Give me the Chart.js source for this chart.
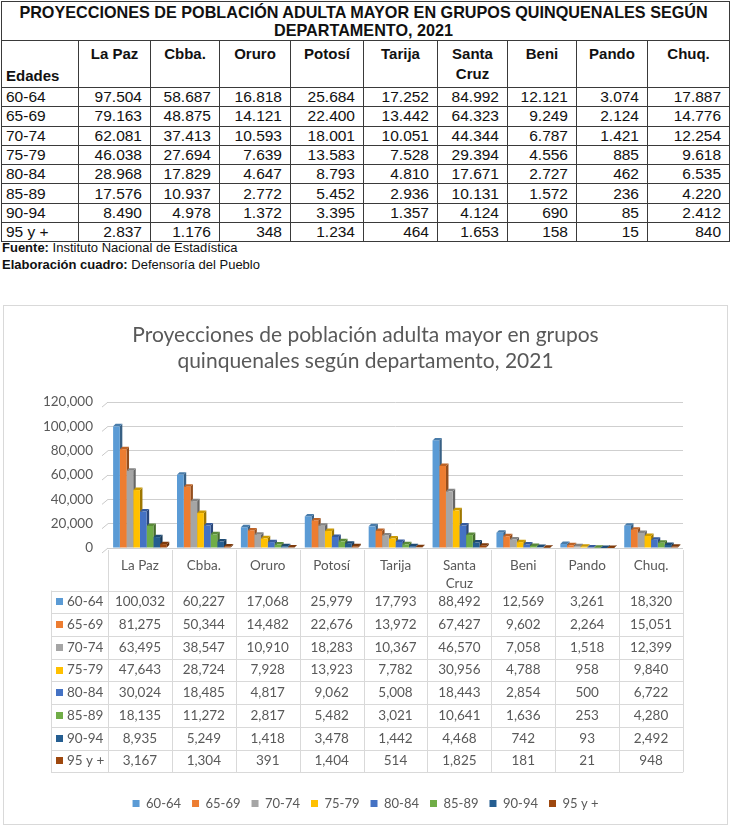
<!DOCTYPE html>
<html>
<head>
<meta charset="UTF-8">
<title>Proyecciones de población adulta mayor 2021</title>
<script src="https://cdn.jsdelivr.net/npm/chart.js@4.4.0/dist/chart.umd.min.js"></script>
<style>
    body {
        margin: 0;
        background: #fff;
        width: 732px;
        height: 831px;
        position: relative;
        overflow: hidden;
        font-family: "Liberation Sans", Arial, sans-serif;
    }
    #tabla {
        position: absolute;
        left: 1px;
        top: 1px;
        width: 728px;
        border-collapse: collapse;
        table-layout: fixed;
    }
    #tabla td {
        border: 1px solid #3a3a3a;
        padding: 0 8px 0 4px;
        font-size: 15.5px;
        line-height: 18px;
        color: #111;
        text-align: right;
        white-space: nowrap;
        overflow: hidden;
    }
    #tabla tr.dato { height: 19.3px; }
    #tabla td.edad { text-align: left; padding-left: 4px; }
    #tabla td.titulo {
        font-weight: bold;
        font-size: 16.2px;
        line-height: 18px;
        text-align: center;
        height: 38px;
    }
    #tabla tr.cab td {
        font-weight: bold;
        font-size: 15px;
        text-align: center;
        vertical-align: top;
        height: 43px;
        padding: 3px 2px 0 2px;
        line-height: 20px;
    }
    #tabla tr.cab td.edades { vertical-align: bottom; text-align: left; padding: 0 0 1px 4px; }
    #fuente {
        position: absolute;
        left: 2px;
        top: 239px;
        font-size: 13px;
        line-height: 17px;
        color: #111;
    }
    #marco {
        position: absolute;
        left: 3px;
        top: 305px;
        width: 725px;
        height: 520px;
        box-sizing: border-box;
        border: 1px solid #d9d9d9;
    }
</style>
</head>
<body>
    <table id="tabla"></table>
    <div id="fuente">
        <b>Fuente:</b> Instituto Nacional de Estadística<br />
        <b>Elaboración cuadro:</b> Defensoría del Pueblo
    </div>
    <div id="marco"><canvas id="grafico"></canvas></div>

<script>
    // categorias y series
    var departamentos = ['La Paz', 'Cbba.', 'Oruro', 'Potosí', 'Tarija', ['Santa', 'Cruz'], 'Beni', 'Pando', 'Chuq.'];
    var grupos = ['60-64', '65-69', '70-74', '75-79', '80-84', '85-89', '90-94', '95 y +'];
    var colores = ['#5B9BD5', '#ED7D31', '#A5A5A5', '#FFC000', '#4472C4', '#70AD47', '#255E91', '#9E480E'];

    // valores del grafico (tabla de datos del grafico)
    var g6064 = [100032, 60227, 17068, 25979, 17793, 88492, 12569, 3261, 18320];
    var g6569 = [81275, 50344, 14482, 22676, 13972, 67427, 9602, 2264, 15051];
    var g7074 = [63495, 38547, 10910, 18283, 10367, 46570, 7058, 1518, 12399];
    var g7579 = [47643, 28724, 7928, 13923, 7782, 30956, 4788, 958, 9840];
    var g8084 = [30024, 18485, 4817, 9062, 5008, 18443, 2854, 500, 6722];
    var g8589 = [18135, 11272, 2817, 5482, 3021, 10641, 1636, 253, 4280];
    var g9094 = [8935, 5249, 1418, 3478, 1442, 4468, 742, 93, 2492];
    var g95 = [3167, 1304, 391, 1404, 514, 1825, 181, 21, 948];
    var seriesGrafico = [g6064, g6569, g7074, g7579, g8084, g8589, g9094, g95];

    // valores del cuadro de arriba
    var t6064 = [97504, 58687, 16818, 25684, 17252, 84992, 12121, 3074, 17887];
    var t6569 = [79163, 48875, 14121, 22400, 13442, 64323, 9249, 2124, 14776];
    var t7074 = [62081, 37413, 10593, 18001, 10051, 44344, 6787, 1421, 12254];
    var t7579 = [46038, 27694, 7639, 13583, 7528, 29394, 4556, 885, 9618];
    var t8084 = [28968, 17829, 4647, 8793, 4810, 17671, 2727, 462, 6535];
    var t8589 = [17576, 10937, 2772, 5452, 2936, 10131, 1572, 236, 4220];
    var t9094 = [8490, 4978, 1372, 3395, 1357, 4124, 690, 85, 2412];
    var t95 = [2837, 1176, 348, 1234, 464, 1653, 158, 15, 840];
    var seriesCuadro = [t6064, t6569, t7074, t7579, t8084, t8589, t9094, t95];

    var anchosCol = [77, 72, 69, 71, 73, 74, 70, 69, 71, 82];

    function conPunto(n) {
        return String(n).replace(/\B(?=(\d{3})+(?!\d))/g, '.');
    }
    function conComa(n) {
        return String(n).replace(/\B(?=(\d{3})+(?!\d))/g, ',');
    }

    // cuadro superior
    var tabla = document.getElementById('tabla');
    var html = '<colgroup>';
    anchosCol.forEach(function (w) { html += '<col style="width:' + w + 'px">'; });
    html += '</colgroup>';
    html += '<tr><td class="titulo" colspan="10">PROYECCIONES DE POBLACIÓN ADULTA MAYOR EN GRUPOS QUINQUENALES SEGÚN<br>DEPARTAMENTO, 2021</td></tr>';
    html += '<tr class="cab"><td class="edades">Edades</td>';
    departamentos.forEach(function (d) {
        html += '<td>' + (Array.isArray(d) ? d.join('<br>') : d) + '</td>';
    });
    html += '</tr>';
    grupos.forEach(function (g, i) {
        html += '<tr class="dato"><td class="edad">' + g + '</td>';
        seriesCuadro[i].forEach(function (v) { html += '<td>' + conPunto(v) + '</td>'; });
        html += '</tr>';
    });
    tabla.innerHTML = html;

    function oscurecer(hex, f) {
        var r = parseInt(hex.slice(1, 3), 16), g = parseInt(hex.slice(3, 5), 16), b = parseInt(hex.slice(5, 7), 16);
        return 'rgb(' + Math.round(r * f) + ',' + Math.round(g * f) + ',' + Math.round(b * f) + ')';
    }

    var PROF = 2.5; // profundidad del efecto 3D
    var GRIS = '#595959';
    var FUENTE = 'Lato, "Open Sans", sans-serif';

    var efecto3d = {
        id: 'efecto3d',
        beforeDatasetsDraw: function (chart) {
            var ctx = chart.ctx, ca = chart.chartArea, ys = chart.scales.y;
            ctx.save();
            ctx.strokeStyle = '#c9c9c9';
            ctx.lineWidth = 1;
            ys.ticks.forEach(function (t) {
                var py = ys.getPixelForValue(t.value);
                ctx.beginPath();
                ctx.moveTo(ca.left - 6, py + 5);
                ctx.lineTo(ca.left, py);
                ctx.stroke();
            });
            // caras laterales
            chart.data.datasets.forEach(function (ds, i) {
                chart.getDatasetMeta(i).data.forEach(function (bar) {
                    var r = bar.x + bar.width / 2;
                    ctx.fillStyle = oscurecer(ds.backgroundColor, 0.62);
                    ctx.beginPath();
                    ctx.moveTo(r, bar.y);
                    ctx.lineTo(r + PROF, bar.y - PROF);
                    ctx.lineTo(r + PROF, bar.base - PROF);
                    ctx.lineTo(r, bar.base);
                    ctx.closePath();
                    ctx.fill();
                });
            });
            // caras superiores
            chart.data.datasets.forEach(function (ds, i) {
                chart.getDatasetMeta(i).data.forEach(function (bar) {
                    var l = bar.x - bar.width / 2, r = bar.x + bar.width / 2;
                    ctx.fillStyle = oscurecer(ds.backgroundColor, 0.8);
                    ctx.beginPath();
                    ctx.moveTo(l, bar.y);
                    ctx.lineTo(l + PROF, bar.y - PROF);
                    ctx.lineTo(r + PROF, bar.y - PROF);
                    ctx.lineTo(r, bar.y);
                    ctx.closePath();
                    ctx.fill();
                });
            });
            ctx.restore();
        },
        afterDraw: function (chart) {
            // tabla de datos debajo del grafico
            var ctx = chart.ctx, xs = chart.scales.x, ca = chart.chartArea;
            var n = departamentos.length;
            var paso = (xs.right - xs.left) / n;
            var izq = 47, cabTop = ca.bottom, cabBot = ca.bottom + 42.6, alto = 22.7;
            var fondo = cabBot + grupos.length * alto;
            ctx.save();
            ctx.strokeStyle = '#d9d9d9';
            ctx.lineWidth = 1;
            ctx.beginPath();
            for (var i = 0; i <= n; i++) {
                var px = Math.round(xs.left + i * paso) + 0.5;
                ctx.moveTo(px, cabTop + 2);
                ctx.lineTo(px, fondo);
            }
            ctx.moveTo(izq + 0.5, cabBot);
            ctx.lineTo(izq + 0.5, fondo);
            for (var k = 0; k <= grupos.length; k++) {
                var py = Math.round(cabBot + k * alto) + 0.5;
                ctx.moveTo(izq, py);
                ctx.lineTo(xs.right, py);
            }
            ctx.stroke();

            ctx.fillStyle = GRIS;
            ctx.font = '13.5px ' + FUENTE;
            ctx.textAlign = 'center';
            ctx.textBaseline = 'middle';
            departamentos.forEach(function (d, i) {
                var cx = xs.getPixelForValue(i);
                var lineas = Array.isArray(d) ? d : [d];
                lineas.forEach(function (t, j) { ctx.fillText(t, cx, cabTop + 18 + j * 18); });
            });
            grupos.forEach(function (g, r) {
                var cy = cabBot + r * alto + alto / 2;
                ctx.fillStyle = colores[r];
                ctx.fillRect(izq + 5, Math.round(cy - 3.5), 7, 7);
                ctx.fillStyle = GRIS;
                ctx.textAlign = 'left';
                ctx.fillText(g, izq + 16, cy);
                ctx.textAlign = 'center';
                seriesGrafico[r].forEach(function (v, i) {
                    ctx.fillText(conComa(v), xs.getPixelForValue(i), cy);
                });
            });
            ctx.restore();
        }
    };

    var datasets = grupos.map(function (g, i) {
        return {
            label: g,
            data: seriesGrafico[i],
            backgroundColor: colores[i],
            borderWidth: 0,
            barPercentage: 1.0,
            categoryPercentage: 0.84
        };
    });

    new Chart('grafico', {
        type: 'bar',
        data: { labels: departamentos, datasets: datasets },
        plugins: [efecto3d],
        options: {
            responsive: true,
            maintainAspectRatio: false,
            animation: false,
            layout: { padding: { left: 0, right: 0, top: 0, bottom: 4 } },
            plugins: {
                title: {
                    display: true,
                    text: ['Proyecciones de población adulta mayor en grupos', 'quinquenales según departamento, 2021'],
                    color: GRIS,
                    font: { family: FUENTE, size: 21, weight: 'normal', lineHeight: 1.24 },
                    padding: { top: 16, bottom: 28 }
                },
                legend: {
                    position: 'bottom',
                    labels: {
                        boxWidth: 7,
                        boxHeight: 7,
                        padding: 11,
                        color: GRIS,
                        font: { family: FUENTE, size: 13 }
                    }
                },
                tooltip: { enabled: false }
            },
            scales: {
                x: {
                    ticks: { display: false },
                    grid: { display: false },
                    border: { display: false },
                    afterFit: function (s) { s.height = 238; }
                },
                y: {
                    min: 0,
                    max: 120000,
                    ticks: {
                        stepSize: 20000,
                        padding: 15,
                        color: GRIS,
                        font: { family: FUENTE, size: 13.5 },
                        callback: function (v) { return conComa(v); }
                    },
                    grid: { color: '#cfcfcf', drawTicks: false },
                    border: { display: false },
                    afterFit: function (s) { s.width = 104; }
                },
                margen: {
                    type: 'linear',
                    position: 'right',
                    ticks: { display: false },
                    grid: { display: false },
                    border: { display: false },
                    afterFit: function (s) { s.width = 44; }
                }
            }
        }
    });
</script>
</body>
</html>
